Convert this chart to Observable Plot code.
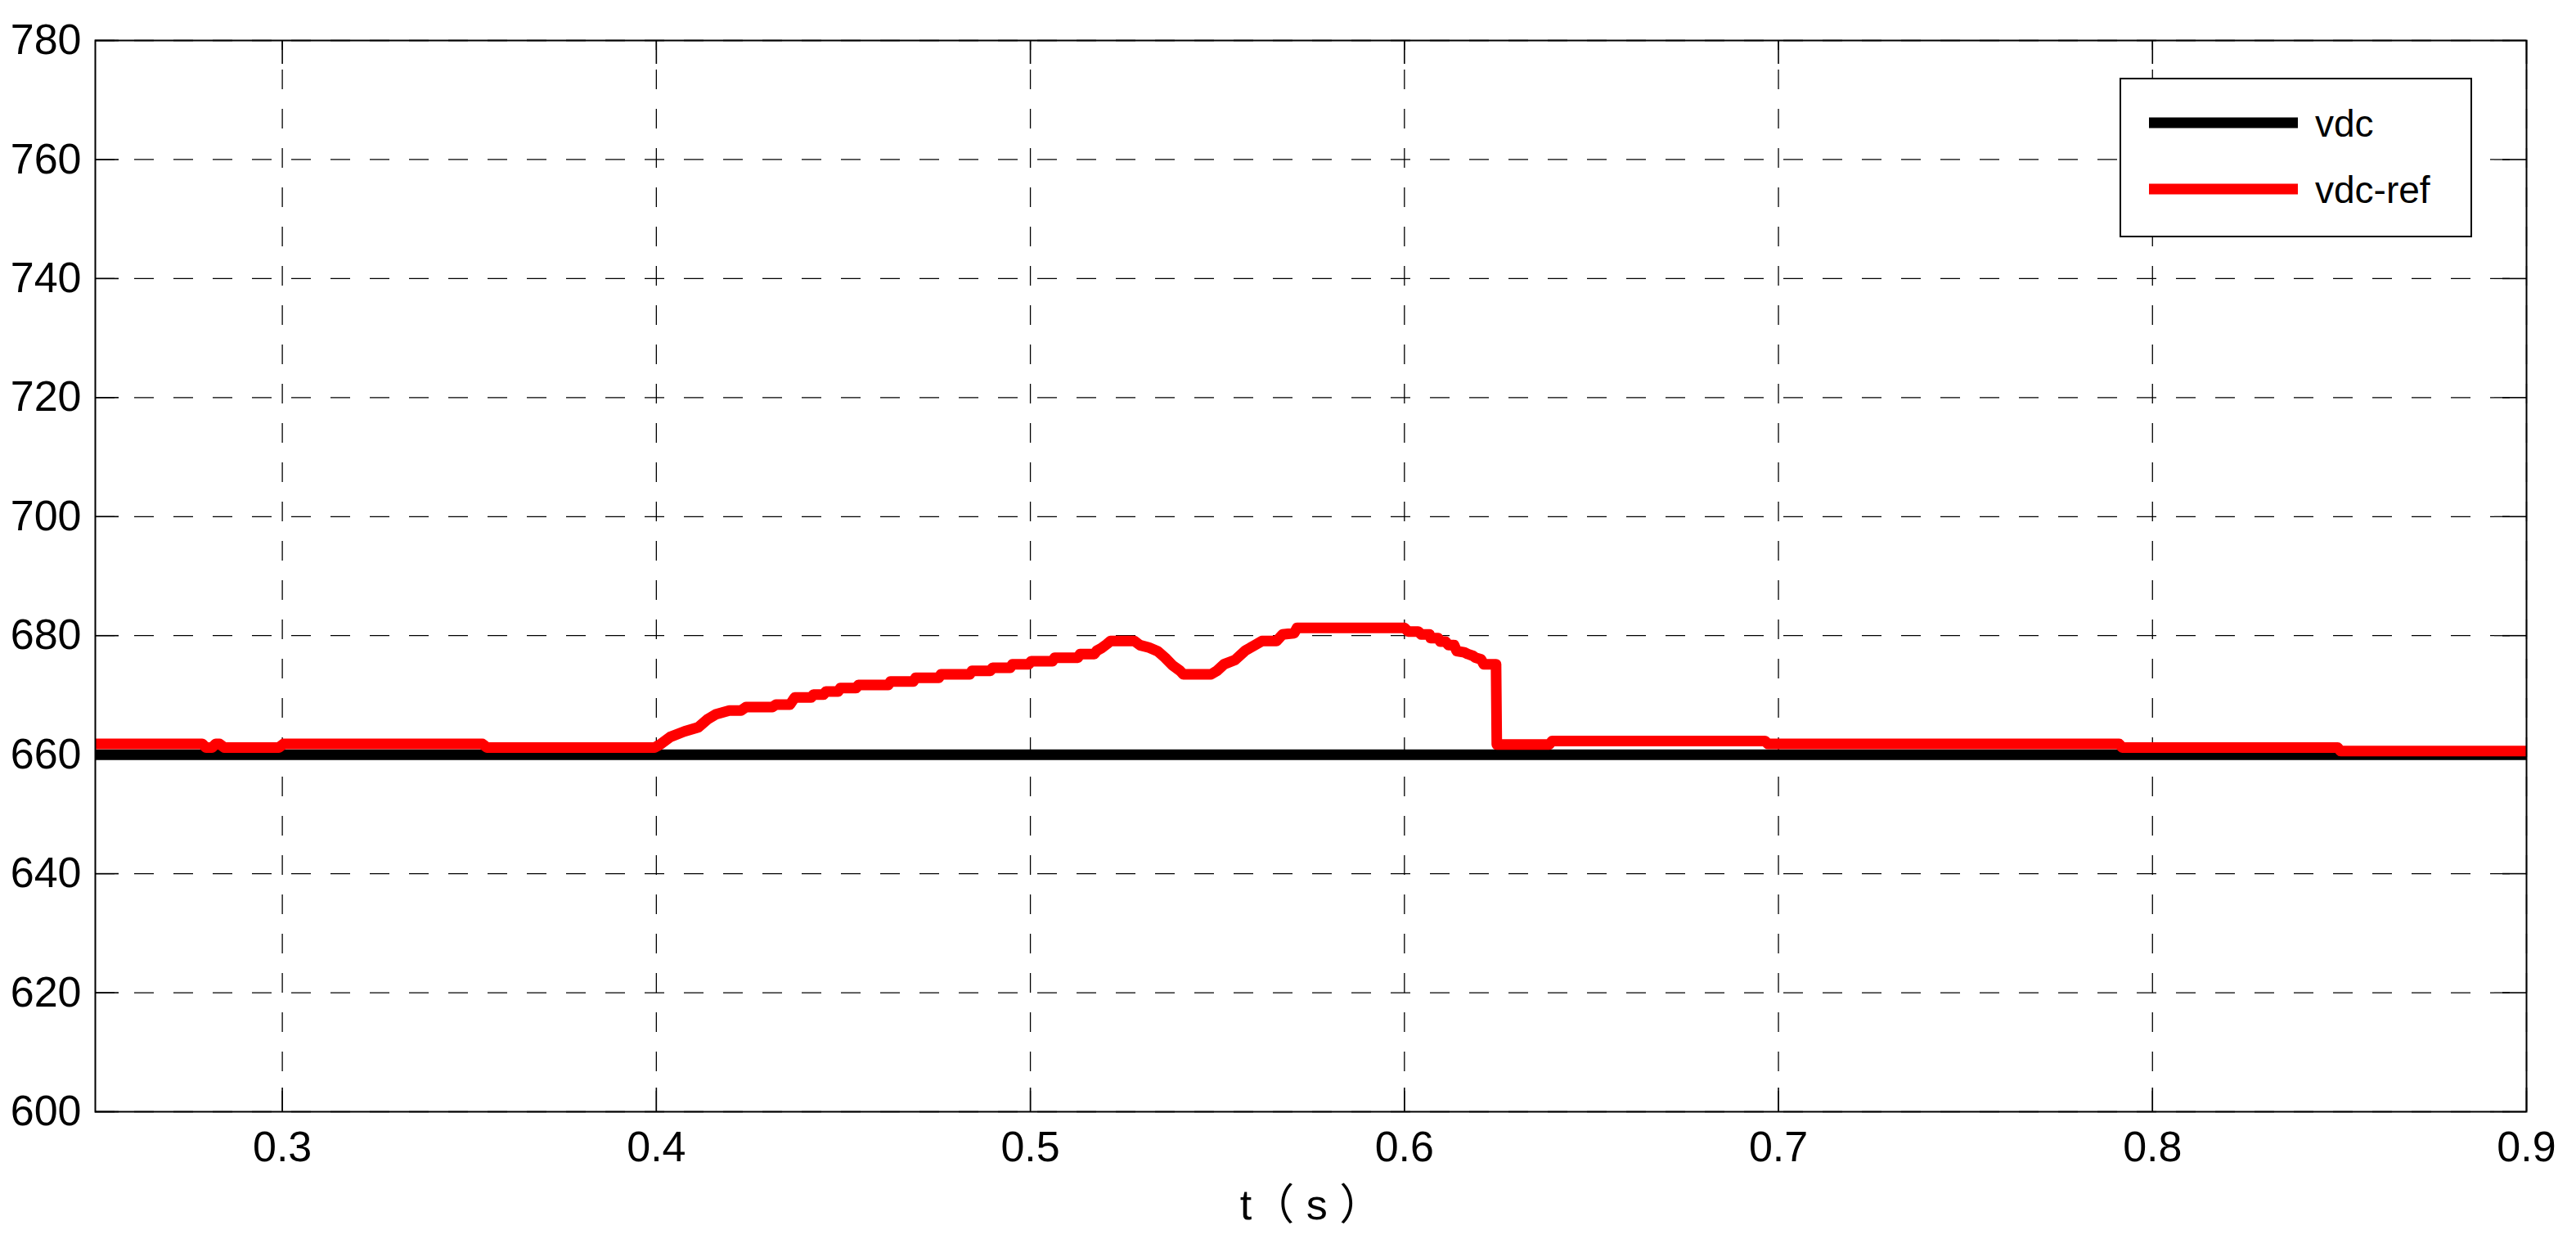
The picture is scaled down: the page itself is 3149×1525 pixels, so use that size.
<!DOCTYPE html>
<html><head><meta charset="utf-8">
<script src="https://cdn.jsdelivr.net/npm/d3@7"></script>
<script src="https://cdn.jsdelivr.net/npm/@observablehq/plot@0.6"></script>
<style>
body{margin:0;background:#fff;}
#wrap{position:relative;width:3149px;height:1525px;background:#fff;}
#legend{position:absolute;left:2591px;top:95px;}
</style></head><body><div id="wrap"></div><script>
// ---- data ----
const xTicks = [0.3, 0.4, 0.5, 0.6, 0.7, 0.8, 0.9];
const yTicks = [600, 620, 640, 660, 680, 700, 720, 740, 760, 780];
const xLabel = "t（ s ）";
const seriesNames = ["vdc", "vdc-ref"];
const seriesColors = ["#000000", "#ff0000"];
// vdc (black)
const tVdc = [0.25, 0.9];
const vVdc = [660, 660];
// vdc-ref (red)
const tRef = [0.25,0.2786,0.2796,0.2812,0.2822,0.2832,0.2845,0.2991,0.3003,0.3535,0.3547,0.3995,
  0.4010,0.4038,0.4075,0.4112,0.4138,0.4160,0.4195,0.4226,0.4240,0.4310,0.4320,0.4357,0.4370,0.4414,
  0.4420,0.4447,0.4453,0.4486,0.4492,0.4534,0.4540,0.4620,0.4626,0.4687,0.4693,0.4755,0.4761,0.4838,
  0.4844,0.4893,0.4899,0.4946,0.4952,0.4996,0.5002,0.5059,0.5065,0.5127,0.5133,0.5171,0.5178,0.5190,
  0.5205,0.5214,0.5278,0.5293,0.5317,0.5340,0.5360,0.5380,0.5400,0.5409,0.5483,0.5499,0.5518,0.5547,
  0.5575,0.5600,0.5619,0.5658,0.5674,0.5705,0.5713,0.6000,0.6010,0.6037,0.6045,0.6067,0.6070,0.6090,
  0.6096,0.6110,0.6118,0.6133,0.6140,0.6160,0.6170,0.6183,0.6190,0.6205,0.6212,0.6245,0.6247,0.6387,
  0.6395,0.6964,0.6972,0.7911,0.7919,0.8495,0.8503,0.9];
const vRef = [661.8,661.8,661.2,661.2,661.8,661.8,661.2,661.2,661.8,661.8,661.2,661.2,
  661.7,663.0,663.9,664.6,666.0,666.8,667.4,667.4,668.0,668.0,668.4,668.4,669.6,669.6,
  670.1,670.1,670.6,670.6,671.2,671.2,671.7,671.7,672.3,672.3,672.9,672.9,673.5,673.5,
  674.1,674.1,674.6,674.6,675.2,675.2,675.7,675.7,676.3,676.3,676.9,676.9,677.5,677.9,
  678.6,679.1,679.1,678.4,678.0,677.4,676.3,675.0,674.1,673.5,673.5,674.1,675.2,675.9,
  677.5,678.4,679.1,679.1,680.2,680.4,681.3,681.3,680.7,680.7,680.2,680.2,679.6,679.6,
  679.0,679.0,678.4,678.4,677.4,677.2,676.9,676.6,676.3,676.0,675.2,675.2,661.7,661.7,
  662.3,662.3,661.8,661.8,661.2,661.2,660.6,660.6];

const vdcData = tVdc.map((t, i) => ({t, v: vVdc[i]}));
const refData = tRef.map((t, i) => ({t, v: vRef[i]}));

const W = 3149, H = 1525;
const mL = 116, mR = 61, mT = 49, mB = 167;
const plotW = W - mL - mR, plotH = H - mT - mB;
const tickLen = 29;
const font = "'Liberation Sans', Arial, 'Noto Sans CJK SC', sans-serif";

const chart = Plot.plot({
  width: W, height: H,
  marginLeft: mL, marginRight: mR, marginTop: mT, marginBottom: mB,
  style: {fontFamily: font, background: "#fff", color: "#000", overflow: "visible"},
  x: {domain: [0.25, 0.9]},
  y: {domain: [600, 780]},
  marks: [
    // dashed grid
    Plot.ruleX(xTicks, {stroke: "#000", strokeWidth: 1.3, strokeDasharray: "24,24", strokeDashoffset: 12}),
    Plot.ruleY(yTicks, {stroke: "#000", strokeWidth: 1.3, strokeDasharray: "24,24"}),
    // inward ticks
    Plot.ruleX(xTicks, {stroke: "#000", strokeWidth: 1.6, insetTop: plotH - tickLen}),
    Plot.ruleX(xTicks, {stroke: "#000", strokeWidth: 1.6, insetBottom: plotH - tickLen}),
    Plot.ruleY(yTicks, {stroke: "#000", strokeWidth: 1.6, insetRight: plotW - tickLen}),
    Plot.ruleY(yTicks, {stroke: "#000", strokeWidth: 1.6, insetLeft: plotW - tickLen}),
    // series
    Plot.line(vdcData, {x: "t", y: "v", stroke: seriesColors[0], strokeWidth: 13, strokeLinecap: "butt"}),
    Plot.line(refData, {x: "t", y: "v", stroke: seriesColors[1], strokeWidth: 13, strokeLinejoin: "round", strokeLinecap: "butt"}),
    Plot.frame({stroke: "#000", strokeWidth: 2}),
    Plot.axisX(xTicks, {tickSize: 0, tickPadding: 24, fontSize: 52, tickFormat: d => d.toFixed(1),
      label: xLabel, labelAnchor: "center", labelOffset: 131, labelArrow: "none"}),
    Plot.axisY(yTicks, {tickSize: 0, tickPadding: 17, fontSize: 52, tickFormat: d => String(d), label: null})
  ]
});
const wrap = document.getElementById("wrap");
wrap.appendChild(chart);

// legend overlay (box inside the plot area, top right)
const lg = d3.select(wrap).append("svg").attr("id", "legend")
  .attr("width", 431).attr("height", 195);
lg.append("rect").attr("x", 1).attr("y", 1).attr("width", 429).attr("height", 193)
  .attr("fill", "#fff").attr("stroke", "#000").attr("stroke-width", 2);
const rowY = [55, 136];
seriesNames.forEach((name, i) => {
  lg.append("line").attr("x1", 36).attr("x2", 218).attr("y1", rowY[i]).attr("y2", rowY[i])
    .attr("stroke", seriesColors[i]).attr("stroke-width", 13);
  lg.append("text").attr("x", 239).attr("y", rowY[i] + 17)
    .attr("font-family", font).attr("font-size", 46).attr("fill", "#000").text(name);
});
</script></body></html>
